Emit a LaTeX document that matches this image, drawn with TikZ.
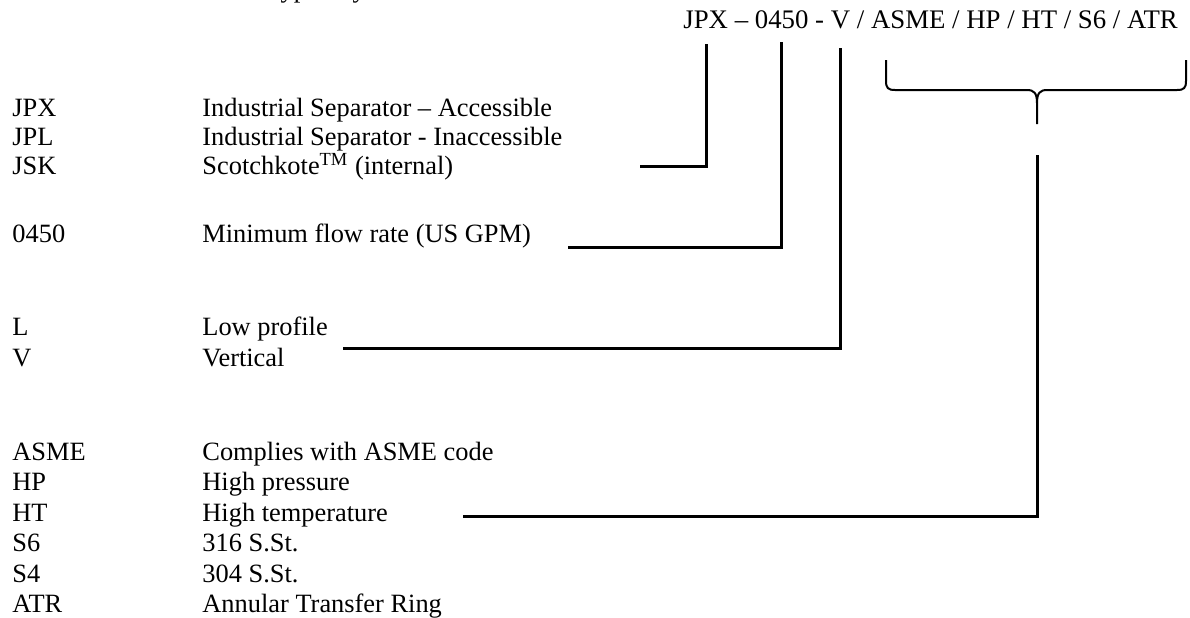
\documentclass[tikz,border=0pt]{standalone}
\usepackage{fontspec}
\setmainfont{Liberation Serif}
\begin{document}
\begin{tikzpicture}[x=0.5pt,y=-0.5pt,line join=miter,
  code/.style={anchor=base west,inner sep=0pt,font=\fontsize{13.2}{15}\selectfont},
  desc/.style={code},
  head/.style={anchor=base west,inner sep=0pt,font=\fontsize{13.4}{15}\selectfont},
  lead/.style={line width=1.5pt},
  bracket/.style={line width=1pt}]
\useasboundingbox (0,0) rectangle (1190,617);
% cut-off line of the page above
\node[code] (cut) at (273,-3) {typically};
% model string
\node[head] (model) at (683,28) {JPX -- 0450 - V / ASME / HP / HT / S6 / ATR};
% codes and their meanings
\node[code] (jpx) at (12,116) {JPX};
\node[desc] (djpx) at (202,116) {Industrial Separator -- Accessible};
\node[code] (jpl) at (12,145) {JPL};
\node[desc] (djpl) at (202,145) {Industrial Separator - Inaccessible};
\node[code] (jsk) at (12,174) {JSK};
\node[desc] (djsk) at (202,174) {Scotchkote\textsuperscript{TM} (internal)};
\node[code] (flow) at (12,242) {0450};
\node[desc] (dflow) at (202,242) {Minimum flow rate (US GPM)};
\node[code] (low) at (12,335) {L};
\node[desc] (dlow) at (202,335) {Low profile};
\node[code] (vert) at (12,366) {V};
\node[desc] (dvert) at (202,366) {Vertical};
\node[code] (asme) at (12,460) {ASME};
\node[desc] (dasme) at (202,460) {Complies with ASME code};
\node[code] (hp) at (12,490) {HP};
\node[desc] (dhp) at (202,490) {High pressure};
\node[code] (ht) at (12,521) {HT};
\node[desc] (dht) at (202,521) {High temperature};
\node[code] (ssix) at (12,551) {S6};
\node[desc] (dssix) at (202,551) {316 S.St.};
\node[code] (sfour) at (12,582) {S4};
\node[desc] (dsfour) at (202,582) {304 S.St.};
\node[code] (atr) at (12,612) {ATR};
\node[desc] (datr) at (202,612) {Annular Transfer Ring};
% leader ends
\coordinate (typetop) at (706,44);
\coordinate (typeend) at (640,166);
\coordinate (flowtop) at (781,42);
\coordinate (flowend) at (568,247);
\coordinate (verttop) at (840,48);
\coordinate (vertend) at (343,348);
\coordinate (opttop) at (1037,155);
\coordinate (optend) at (463,516);
\draw[lead] (typetop) |- (typeend);
\draw[lead] (flowtop) |- (flowend);
\draw[lead] (verttop) |- (vertend);
\draw[lead] (opttop) |- (optend);
% brace over the options
\draw[bracket] (886,60) -- (886,81) .. controls (886,88) and (888,90) .. (895,90)
  -- (1027,90) .. controls (1034,90) and (1037,93) .. (1037,103) -- (1037,124)
  -- (1037,103) .. controls (1037,93) and (1040,90) .. (1047,90)
  -- (1177,90) .. controls (1184,90) and (1186,88) .. (1186,81) -- (1186,60);
\end{tikzpicture}
\end{document}
